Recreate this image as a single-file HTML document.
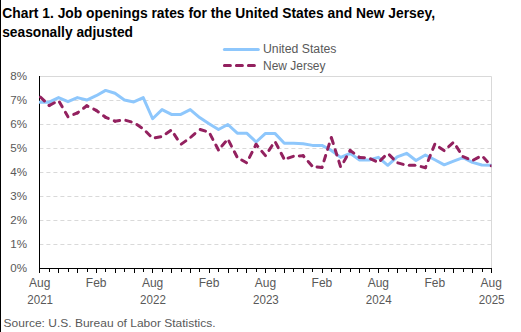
<!DOCTYPE html>
<html><head><meta charset="utf-8"><style>
html,body{margin:0;padding:0;background:#fff;width:521px;height:332px;overflow:hidden}
svg{display:block}
</style></head><body>
<svg width="521" height="332" viewBox="0 0 521 332">
<path d="M39.5 76.5H491.5V268.5" fill="none" stroke="#d9d9d9" stroke-width="1"/>
<line x1="39.4" y1="244.5" x2="491" y2="244.5" stroke="#d9d9d9" stroke-width="1" stroke-dasharray="4 3"/>
<line x1="39.4" y1="220.5" x2="491" y2="220.5" stroke="#d9d9d9" stroke-width="1" stroke-dasharray="4 3"/>
<line x1="39.4" y1="196.5" x2="491" y2="196.5" stroke="#d9d9d9" stroke-width="1" stroke-dasharray="4 3"/>
<line x1="39.4" y1="172.5" x2="491" y2="172.5" stroke="#d9d9d9" stroke-width="1" stroke-dasharray="4 3"/>
<line x1="39.4" y1="148.5" x2="491" y2="148.5" stroke="#d9d9d9" stroke-width="1" stroke-dasharray="4 3"/>
<line x1="39.4" y1="124.5" x2="491" y2="124.5" stroke="#d9d9d9" stroke-width="1" stroke-dasharray="4 3"/>
<line x1="39.4" y1="100.5" x2="491" y2="100.5" stroke="#d9d9d9" stroke-width="1" stroke-dasharray="4 3"/>
<line x1="39.5" y1="76" x2="39.5" y2="269" stroke="#000" stroke-width="1"/>
<line x1="39" y1="268.5" x2="492" y2="268.5" stroke="#000" stroke-width="1"/>
<line x1="39.5" y1="268" x2="39.5" y2="273" stroke="#000" stroke-width="1"/>
<line x1="49.5" y1="268" x2="49.5" y2="272" stroke="#000" stroke-width="1"/>
<line x1="58.5" y1="268" x2="58.5" y2="273" stroke="#000" stroke-width="1"/>
<line x1="68.5" y1="268" x2="68.5" y2="272" stroke="#000" stroke-width="1"/>
<line x1="77.5" y1="268" x2="77.5" y2="273" stroke="#000" stroke-width="1"/>
<line x1="87.5" y1="268" x2="87.5" y2="272" stroke="#000" stroke-width="1"/>
<line x1="96.5" y1="268" x2="96.5" y2="273" stroke="#000" stroke-width="1"/>
<line x1="105.5" y1="268" x2="105.5" y2="272" stroke="#000" stroke-width="1"/>
<line x1="115.5" y1="268" x2="115.5" y2="273" stroke="#000" stroke-width="1"/>
<line x1="124.5" y1="268" x2="124.5" y2="272" stroke="#000" stroke-width="1"/>
<line x1="134.5" y1="268" x2="134.5" y2="273" stroke="#000" stroke-width="1"/>
<line x1="143.5" y1="268" x2="143.5" y2="272" stroke="#000" stroke-width="1"/>
<line x1="152.5" y1="268" x2="152.5" y2="273" stroke="#000" stroke-width="1"/>
<line x1="162.5" y1="268" x2="162.5" y2="272" stroke="#000" stroke-width="1"/>
<line x1="171.5" y1="268" x2="171.5" y2="273" stroke="#000" stroke-width="1"/>
<line x1="181.5" y1="268" x2="181.5" y2="272" stroke="#000" stroke-width="1"/>
<line x1="190.5" y1="268" x2="190.5" y2="273" stroke="#000" stroke-width="1"/>
<line x1="199.5" y1="268" x2="199.5" y2="272" stroke="#000" stroke-width="1"/>
<line x1="209.5" y1="268" x2="209.5" y2="273" stroke="#000" stroke-width="1"/>
<line x1="218.5" y1="268" x2="218.5" y2="272" stroke="#000" stroke-width="1"/>
<line x1="228.5" y1="268" x2="228.5" y2="273" stroke="#000" stroke-width="1"/>
<line x1="237.5" y1="268" x2="237.5" y2="272" stroke="#000" stroke-width="1"/>
<line x1="246.5" y1="268" x2="246.5" y2="273" stroke="#000" stroke-width="1"/>
<line x1="256.5" y1="268" x2="256.5" y2="272" stroke="#000" stroke-width="1"/>
<line x1="265.5" y1="268" x2="265.5" y2="273" stroke="#000" stroke-width="1"/>
<line x1="275.5" y1="268" x2="275.5" y2="272" stroke="#000" stroke-width="1"/>
<line x1="284.5" y1="268" x2="284.5" y2="273" stroke="#000" stroke-width="1"/>
<line x1="293.5" y1="268" x2="293.5" y2="272" stroke="#000" stroke-width="1"/>
<line x1="303.5" y1="268" x2="303.5" y2="273" stroke="#000" stroke-width="1"/>
<line x1="312.5" y1="268" x2="312.5" y2="272" stroke="#000" stroke-width="1"/>
<line x1="322.5" y1="268" x2="322.5" y2="273" stroke="#000" stroke-width="1"/>
<line x1="331.5" y1="268" x2="331.5" y2="272" stroke="#000" stroke-width="1"/>
<line x1="340.5" y1="268" x2="340.5" y2="273" stroke="#000" stroke-width="1"/>
<line x1="350.5" y1="268" x2="350.5" y2="272" stroke="#000" stroke-width="1"/>
<line x1="359.5" y1="268" x2="359.5" y2="273" stroke="#000" stroke-width="1"/>
<line x1="369.5" y1="268" x2="369.5" y2="272" stroke="#000" stroke-width="1"/>
<line x1="378.5" y1="268" x2="378.5" y2="273" stroke="#000" stroke-width="1"/>
<line x1="388.5" y1="268" x2="388.5" y2="272" stroke="#000" stroke-width="1"/>
<line x1="397.5" y1="268" x2="397.5" y2="273" stroke="#000" stroke-width="1"/>
<line x1="406.5" y1="268" x2="406.5" y2="272" stroke="#000" stroke-width="1"/>
<line x1="416.5" y1="268" x2="416.5" y2="273" stroke="#000" stroke-width="1"/>
<line x1="425.5" y1="268" x2="425.5" y2="272" stroke="#000" stroke-width="1"/>
<line x1="435.5" y1="268" x2="435.5" y2="273" stroke="#000" stroke-width="1"/>
<line x1="444.5" y1="268" x2="444.5" y2="272" stroke="#000" stroke-width="1"/>
<line x1="453.5" y1="268" x2="453.5" y2="273" stroke="#000" stroke-width="1"/>
<line x1="463.5" y1="268" x2="463.5" y2="272" stroke="#000" stroke-width="1"/>
<line x1="472.5" y1="268" x2="472.5" y2="273" stroke="#000" stroke-width="1"/>
<line x1="482.5" y1="268" x2="482.5" y2="272" stroke="#000" stroke-width="1"/>
<line x1="491.5" y1="268" x2="491.5" y2="273" stroke="#000" stroke-width="1"/>
<text x="27" y="272.2" text-anchor="end" font-family="Liberation Sans, sans-serif" font-size="11.6" fill="#595959">0%</text>
<text x="27" y="248.2" text-anchor="end" font-family="Liberation Sans, sans-serif" font-size="11.6" fill="#595959">1%</text>
<text x="27" y="224.2" text-anchor="end" font-family="Liberation Sans, sans-serif" font-size="11.6" fill="#595959">2%</text>
<text x="27" y="200.2" text-anchor="end" font-family="Liberation Sans, sans-serif" font-size="11.6" fill="#595959">3%</text>
<text x="27" y="176.2" text-anchor="end" font-family="Liberation Sans, sans-serif" font-size="11.6" fill="#595959">4%</text>
<text x="27" y="152.2" text-anchor="end" font-family="Liberation Sans, sans-serif" font-size="11.6" fill="#595959">5%</text>
<text x="27" y="128.2" text-anchor="end" font-family="Liberation Sans, sans-serif" font-size="11.6" fill="#595959">6%</text>
<text x="27" y="104.2" text-anchor="end" font-family="Liberation Sans, sans-serif" font-size="11.6" fill="#595959">7%</text>
<text x="27" y="80.2" text-anchor="end" font-family="Liberation Sans, sans-serif" font-size="11.6" fill="#595959">8%</text>
<text x="39.75" y="287" text-anchor="middle" font-family="Liberation Sans, sans-serif" font-size="12" fill="#595959">Aug</text>
<text x="40.15" y="303.6" text-anchor="middle" font-family="Liberation Sans, sans-serif" font-size="12" fill="#595959" textLength="25.8" lengthAdjust="spacingAndGlyphs">2021</text>
<text x="96.19" y="287" text-anchor="middle" font-family="Liberation Sans, sans-serif" font-size="12" fill="#595959">Feb</text>
<text x="152.62" y="287" text-anchor="middle" font-family="Liberation Sans, sans-serif" font-size="12" fill="#595959">Aug</text>
<text x="153.02" y="303.6" text-anchor="middle" font-family="Liberation Sans, sans-serif" font-size="12" fill="#595959" textLength="25.8" lengthAdjust="spacingAndGlyphs">2022</text>
<text x="209.06" y="287" text-anchor="middle" font-family="Liberation Sans, sans-serif" font-size="12" fill="#595959">Feb</text>
<text x="265.49" y="287" text-anchor="middle" font-family="Liberation Sans, sans-serif" font-size="12" fill="#595959">Aug</text>
<text x="265.89" y="303.6" text-anchor="middle" font-family="Liberation Sans, sans-serif" font-size="12" fill="#595959" textLength="25.8" lengthAdjust="spacingAndGlyphs">2023</text>
<text x="321.93" y="287" text-anchor="middle" font-family="Liberation Sans, sans-serif" font-size="12" fill="#595959">Feb</text>
<text x="378.37" y="287" text-anchor="middle" font-family="Liberation Sans, sans-serif" font-size="12" fill="#595959">Aug</text>
<text x="378.77" y="303.6" text-anchor="middle" font-family="Liberation Sans, sans-serif" font-size="12" fill="#595959" textLength="25.8" lengthAdjust="spacingAndGlyphs">2024</text>
<text x="434.80" y="287" text-anchor="middle" font-family="Liberation Sans, sans-serif" font-size="12" fill="#595959">Feb</text>
<text x="491.24" y="287" text-anchor="middle" font-family="Liberation Sans, sans-serif" font-size="12" fill="#595959">Aug</text>
<text x="491.64" y="303.6" text-anchor="middle" font-family="Liberation Sans, sans-serif" font-size="12" fill="#595959" textLength="25.8" lengthAdjust="spacingAndGlyphs">2025</text>
<defs><clipPath id="pc"><rect x="39" y="70" width="452.5" height="200"/></clipPath></defs><g clip-path="url(#pc)">
<polyline points="39.75,102.18 49.16,102.18 58.56,97.62 67.97,101.70 77.37,97.62 86.78,100.02 96.19,95.70 105.59,90.42 115.00,93.30 124.40,100.02 133.81,101.94 143.22,97.62 152.62,118.74 162.03,109.62 171.43,114.42 180.84,114.42 190.25,109.62 199.65,117.54 209.06,123.78 218.46,129.54 227.87,124.50 237.28,133.14 246.68,133.14 256.09,142.02 265.49,133.38 274.90,133.38 284.31,143.22 293.71,143.22 303.12,143.70 312.52,145.38 321.93,145.38 331.34,150.42 340.74,157.38 350.15,153.30 359.55,160.02 368.96,160.02 378.37,157.38 387.77,165.30 397.18,156.90 406.58,153.30 415.99,160.50 425.40,154.98 434.80,159.78 444.21,164.82 453.61,161.22 463.02,157.62 472.43,162.42 481.83,165.06 491.24,165.30" fill="none" stroke="#8ec7fc" stroke-width="3" stroke-linejoin="round" stroke-linecap="round"/>
<path d="M39.75 96.42L49.16 105.54" fill="none" stroke="#93215f" stroke-width="3" stroke-linecap="round" stroke-dasharray="5.6 6.4" stroke-dashoffset="11.10"/>
<path d="M49.16 105.54L58.56 100.50" fill="none" stroke="#93215f" stroke-width="3" stroke-linecap="round" stroke-dasharray="5.6 6.4" stroke-dashoffset="11.67"/>
<path d="M58.56 100.50L67.97 116.82" fill="none" stroke="#93215f" stroke-width="3" stroke-linecap="round" stroke-dasharray="5.6 6.4" stroke-dashoffset="10.30"/>
<path d="M67.97 116.82L77.37 112.98" fill="none" stroke="#93215f" stroke-width="3" stroke-linecap="round" stroke-dasharray="5.6 6.4" stroke-dashoffset="5.77"/>
<path d="M77.37 112.98L86.78 105.78" fill="none" stroke="#93215f" stroke-width="3" stroke-linecap="round" stroke-dasharray="5.6 6.4" stroke-dashoffset="4.20"/>
<path d="M86.78 105.78L96.19 110.34" fill="none" stroke="#93215f" stroke-width="3" stroke-linecap="round" stroke-dasharray="5.6 6.4" stroke-dashoffset="4.26"/>
<path d="M96.19 110.34L105.59 117.30" fill="none" stroke="#93215f" stroke-width="3" stroke-linecap="round" stroke-dasharray="5.6 6.4" stroke-dashoffset="2.87"/>
<path d="M105.59 117.30L115.00 121.14" fill="none" stroke="#93215f" stroke-width="3" stroke-linecap="round" stroke-dasharray="5.6 6.4" stroke-dashoffset="2.67"/>
<path d="M115.00 121.14L124.40 119.94" fill="none" stroke="#93215f" stroke-width="3" stroke-linecap="round" stroke-dasharray="5.6 6.4" stroke-dashoffset="0.93"/>
<path d="M124.40 119.94L133.81 122.58" fill="none" stroke="#93215f" stroke-width="3" stroke-linecap="round" stroke-dasharray="5.6 6.4" stroke-dashoffset="10.50"/>
<path d="M133.81 122.58L143.22 128.82" fill="none" stroke="#93215f" stroke-width="3" stroke-linecap="round" stroke-dasharray="5.6 6.4" stroke-dashoffset="8.36"/>
<path d="M143.22 128.82L152.62 138.18" fill="none" stroke="#93215f" stroke-width="3" stroke-linecap="round" stroke-dasharray="5.6 6.4" stroke-dashoffset="7.83"/>
<path d="M152.62 138.18L162.03 136.50" fill="none" stroke="#93215f" stroke-width="3" stroke-linecap="round" stroke-dasharray="5.6 6.4" stroke-dashoffset="9.34"/>
<path d="M162.03 136.50L171.43 130.02" fill="none" stroke="#93215f" stroke-width="3" stroke-linecap="round" stroke-dasharray="5.6 6.4" stroke-dashoffset="7.10"/>
<path d="M171.43 130.02L180.84 144.42" fill="none" stroke="#93215f" stroke-width="3" stroke-linecap="round" stroke-dasharray="5.6 6.4" stroke-dashoffset="6.77"/>
<path d="M180.84 144.42L190.25 137.70" fill="none" stroke="#93215f" stroke-width="3" stroke-linecap="round" stroke-dasharray="5.6 6.4" stroke-dashoffset="11.46"/>
<path d="M190.25 137.70L199.65 129.30" fill="none" stroke="#93215f" stroke-width="3" stroke-linecap="round" stroke-dasharray="5.6 6.4" stroke-dashoffset="11.33"/>
<path d="M199.65 129.30L209.06 132.18" fill="none" stroke="#93215f" stroke-width="3" stroke-linecap="round" stroke-dasharray="5.6 6.4" stroke-dashoffset="11.44"/>
<path d="M209.06 132.18L218.46 149.94" fill="none" stroke="#93215f" stroke-width="3" stroke-linecap="round" stroke-dasharray="5.6 6.4" stroke-dashoffset="9.50"/>
<path d="M218.46 149.94L227.87 139.14" fill="none" stroke="#93215f" stroke-width="3" stroke-linecap="round" stroke-dasharray="5.6 6.4" stroke-dashoffset="6.81"/>
<path d="M227.87 139.14L237.28 157.38" fill="none" stroke="#93215f" stroke-width="3" stroke-linecap="round" stroke-dasharray="5.6 6.4" stroke-dashoffset="9.77"/>
<path d="M237.28 157.38L246.68 162.90" fill="none" stroke="#93215f" stroke-width="3" stroke-linecap="round" stroke-dasharray="5.6 6.4" stroke-dashoffset="6.84"/>
<path d="M246.68 162.90L256.09 144.42" fill="none" stroke="#93215f" stroke-width="3" stroke-linecap="round" stroke-dasharray="5.6 6.4" stroke-dashoffset="5.84"/>
<path d="M256.09 144.42L265.49 155.70" fill="none" stroke="#93215f" stroke-width="3" stroke-linecap="round" stroke-dasharray="5.6 6.4" stroke-dashoffset="2.97"/>
<path d="M265.49 155.70L274.90 141.30" fill="none" stroke="#93215f" stroke-width="3" stroke-linecap="round" stroke-dasharray="5.6 6.4" stroke-dashoffset="5.66"/>
<path d="M274.90 141.30L284.31 159.30" fill="none" stroke="#93215f" stroke-width="3" stroke-linecap="round" stroke-dasharray="5.6 6.4" stroke-dashoffset="10.53"/>
<path d="M284.31 159.30L293.71 156.18" fill="none" stroke="#93215f" stroke-width="3" stroke-linecap="round" stroke-dasharray="5.6 6.4" stroke-dashoffset="8.08"/>
<path d="M293.71 156.18L303.12 155.70" fill="none" stroke="#93215f" stroke-width="3" stroke-linecap="round" stroke-dasharray="5.6 6.4" stroke-dashoffset="6.42"/>
<path d="M303.12 155.70L312.52 166.50" fill="none" stroke="#93215f" stroke-width="3" stroke-linecap="round" stroke-dasharray="5.6 6.4" stroke-dashoffset="4.31"/>
<path d="M312.52 166.50L321.93 167.46" fill="none" stroke="#93215f" stroke-width="3" stroke-linecap="round" stroke-dasharray="5.6 6.4" stroke-dashoffset="7.45"/>
<path d="M321.93 167.46L331.34 137.46" fill="none" stroke="#93215f" stroke-width="3" stroke-linecap="round" stroke-dasharray="5.6 6.4" stroke-dashoffset="5.08"/>
<path d="M331.34 137.46L340.74 167.22" fill="none" stroke="#93215f" stroke-width="3" stroke-linecap="round" stroke-dasharray="5.6 6.4" stroke-dashoffset="11.19"/>
<path d="M340.74 167.22L350.15 150.42" fill="none" stroke="#93215f" stroke-width="3" stroke-linecap="round" stroke-dasharray="5.6 6.4" stroke-dashoffset="5.60"/>
<path d="M350.15 150.42L359.55 157.38" fill="none" stroke="#93215f" stroke-width="3" stroke-linecap="round" stroke-dasharray="5.6 6.4" stroke-dashoffset="1.04"/>
<path d="M359.55 157.38L368.96 158.10" fill="none" stroke="#93215f" stroke-width="3" stroke-linecap="round" stroke-dasharray="5.6 6.4" stroke-dashoffset="0.67"/>
<path d="M368.96 158.10L378.37 162.42" fill="none" stroke="#93215f" stroke-width="3" stroke-linecap="round" stroke-dasharray="5.6 6.4" stroke-dashoffset="10.26"/>
<path d="M378.37 162.42L387.77 153.30" fill="none" stroke="#93215f" stroke-width="3" stroke-linecap="round" stroke-dasharray="5.6 6.4" stroke-dashoffset="9.01"/>
<path d="M387.77 153.30L397.18 162.66" fill="none" stroke="#93215f" stroke-width="3" stroke-linecap="round" stroke-dasharray="5.6 6.4" stroke-dashoffset="9.74"/>
<path d="M397.18 162.66L406.58 165.30" fill="none" stroke="#93215f" stroke-width="3" stroke-linecap="round" stroke-dasharray="5.6 6.4" stroke-dashoffset="11.31"/>
<path d="M406.58 165.30L415.99 165.30" fill="none" stroke="#93215f" stroke-width="3" stroke-linecap="round" stroke-dasharray="5.6 6.4" stroke-dashoffset="9.29"/>
<path d="M415.99 165.30L425.40 167.70" fill="none" stroke="#93215f" stroke-width="3" stroke-linecap="round" stroke-dasharray="5.6 6.4" stroke-dashoffset="6.67"/>
<path d="M425.40 167.70L434.80 144.18" fill="none" stroke="#93215f" stroke-width="3" stroke-linecap="round" stroke-dasharray="5.6 6.4" stroke-dashoffset="4.30"/>
<path d="M434.80 144.18L444.21 150.66" fill="none" stroke="#93215f" stroke-width="3" stroke-linecap="round" stroke-dasharray="5.6 6.4" stroke-dashoffset="6.34"/>
<path d="M444.21 150.66L453.61 142.26" fill="none" stroke="#93215f" stroke-width="3" stroke-linecap="round" stroke-dasharray="5.6 6.4" stroke-dashoffset="5.98"/>
<path d="M453.61 142.26L463.02 156.66" fill="none" stroke="#93215f" stroke-width="3" stroke-linecap="round" stroke-dasharray="5.6 6.4" stroke-dashoffset="6.71"/>
<path d="M463.02 156.66L472.43 160.50" fill="none" stroke="#93215f" stroke-width="3" stroke-linecap="round" stroke-dasharray="5.6 6.4" stroke-dashoffset="0.35"/>
<path d="M472.43 160.50L481.83 155.70" fill="none" stroke="#93215f" stroke-width="3" stroke-linecap="round" stroke-dasharray="5.6 6.4" stroke-dashoffset="10.84"/>
<path d="M481.83 155.70L491.24 165.78" fill="none" stroke="#93215f" stroke-width="3" stroke-linecap="round" stroke-dasharray="5.6 6.4" stroke-dashoffset="9.41"/>
<circle cx="491.24" cy="165.78" r="1.5" fill="#93215f"/>
</g>
<line x1="224.4" y1="49.5" x2="258.3" y2="49.5" stroke="#8ec7fc" stroke-width="3" stroke-linecap="round"/>
<line x1="224.4" y1="65.5" x2="254.6" y2="65.5" stroke="#93215f" stroke-width="3" stroke-linecap="round" stroke-dasharray="6 6"/>
<text x="263" y="52.5" font-family="Liberation Sans, sans-serif" font-size="12" fill="#595959" textLength="73.5" lengthAdjust="spacingAndGlyphs">United States</text>
<text x="263" y="69.5" font-family="Liberation Sans, sans-serif" font-size="12" fill="#595959" textLength="62.5" lengthAdjust="spacingAndGlyphs">New Jersey</text>
<text x="2.3" y="17.6" font-family="Liberation Sans, sans-serif" font-weight="bold" font-size="14" fill="#000" textLength="432.7" lengthAdjust="spacingAndGlyphs">Chart 1. Job openings rates for the United States and New Jersey,</text>
<text x="2.2" y="37.3" font-family="Liberation Sans, sans-serif" font-weight="bold" font-size="14" fill="#000" textLength="130.8" lengthAdjust="spacingAndGlyphs">seasonally adjusted</text>
<text x="3.6" y="327" font-family="Liberation Sans, sans-serif" font-size="11.5" fill="#595959" textLength="212" lengthAdjust="spacingAndGlyphs">Source: U.S. Bureau of Labor Statistics.</text>
<rect x="0" y="0" width="1" height="332" fill="#000"/>
</svg>
</body></html>
